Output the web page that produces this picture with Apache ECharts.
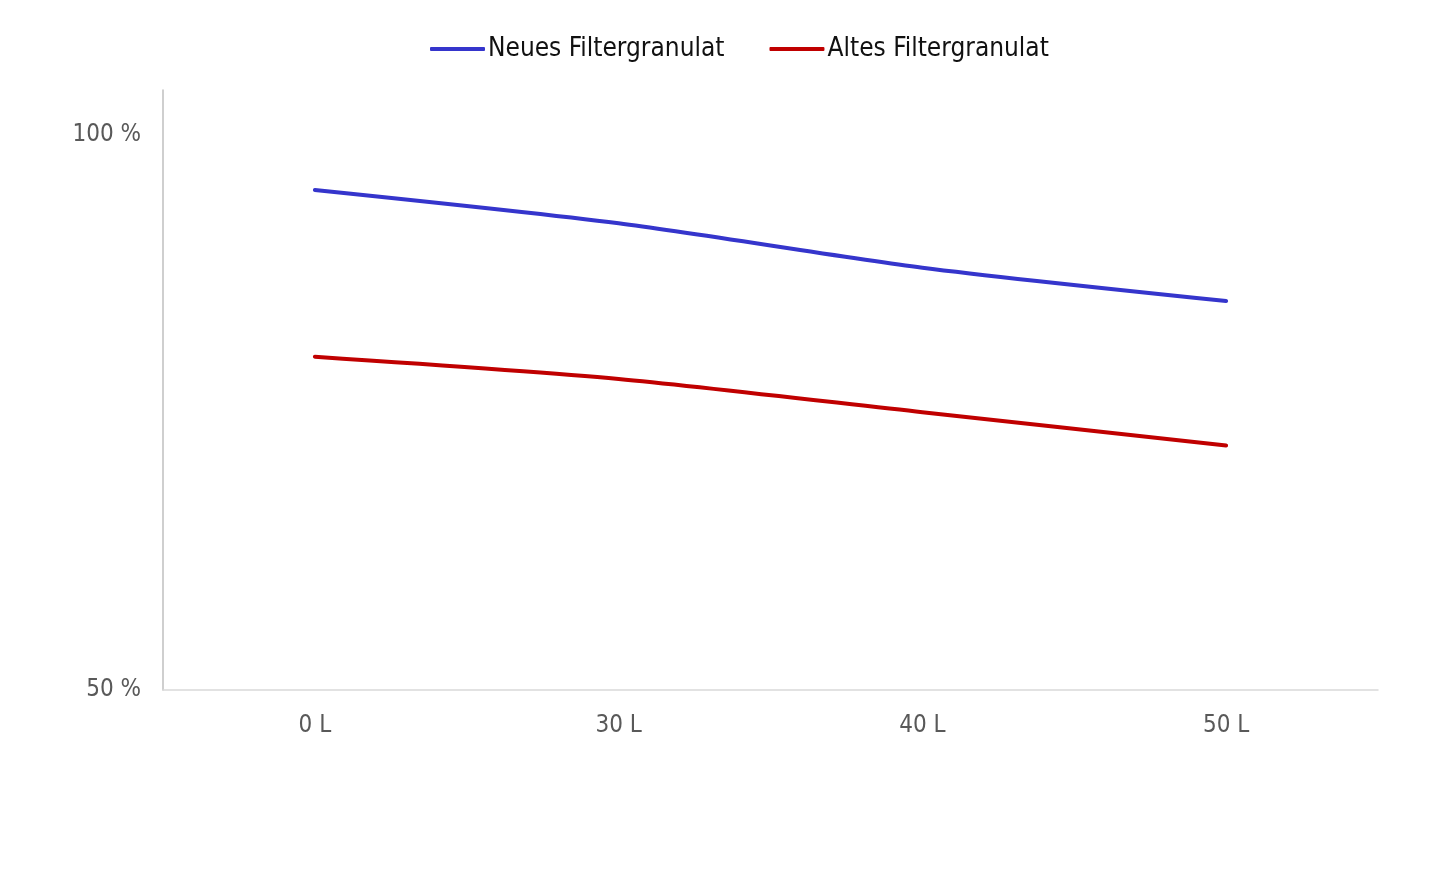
<!DOCTYPE html>
<html>
<head>
<meta charset="utf-8">
<script src="https://cdn.jsdelivr.net/npm/echarts@6/dist/echarts.min.js"></script>
<style>html,body{margin:0;padding:0;background:#fff}#c{width:1447px;height:895px}</style>
</head>
<body>
<div id="c"></div>
<script>
const categories = ['0 L', '30 L', '40 L', '50 L'];
const seriesNames = ['Neues Filtergranulat', 'Altes Filtergranulat'];
const neuesValues = [95, 92, 88, 85];
const altesValues = [80, 78, 75, 72];
const yTickLabels = [50, 100];

const FONT = "'DejaVu Sans Condensed', 'DejaVu Sans', sans-serif";
const chart = echarts.init(document.getElementById('c'), null, {renderer: 'canvas'});
chart.setOption({
  animation: false,
  backgroundColor: '#fff',
  textStyle: {fontFamily: FONT},
  legend: {
    top: 31,
    left: 425,
    itemWidth: 55,
    itemHeight: 4,
    itemGap: 45,
    icon: 'roundRect',
    textStyle: {fontFamily: FONT, fontSize: 26, color: '#111', padding: [0, 0, 0, -2]},
    data: seriesNames
  },
  grid: {left: 163, right: 69, top: 90, bottom: 205, containLabel: false},
  xAxis: {
    type: 'category',
    data: categories,
    boundaryGap: true,
    axisLine: {show: true, lineStyle: {color: '#d9d9d9', width: 1.5}},
    axisTick: {show: false},
    axisLabel: {fontFamily: FONT, fontSize: 24, color: '#595959', margin: 24}
  },
  yAxis: {
    type: 'value',
    min: 50,
    max: 104,
    interval: 50,
    splitLine: {show: false},
    axisLine: {show: true, lineStyle: {color: '#bfbfbf', width: 1.5}},
    axisTick: {show: false},
    axisLabel: {
      fontFamily: FONT, fontSize: 24, color: '#595959', margin: 22,
      padding: [5, 0, 0, 0],
      formatter: v => yTickLabels.includes(v) ? v + ' %' : ''
    }
  },
  series: [
    {
      name: seriesNames[0], type: 'line', data: neuesValues,
      smooth: 0.25, showSymbol: false, symbol: 'none',
      color: '#3535cc',
      lineStyle: {width: 4, color: '#3535cc', cap: 'round'}
    },
    {
      name: seriesNames[1], type: 'line', data: altesValues,
      smooth: 0.25, showSymbol: false, symbol: 'none',
      color: '#c00000',
      lineStyle: {width: 4, color: '#c00000', cap: 'round'}
    }
  ]
});
</script>
</body>
</html>
